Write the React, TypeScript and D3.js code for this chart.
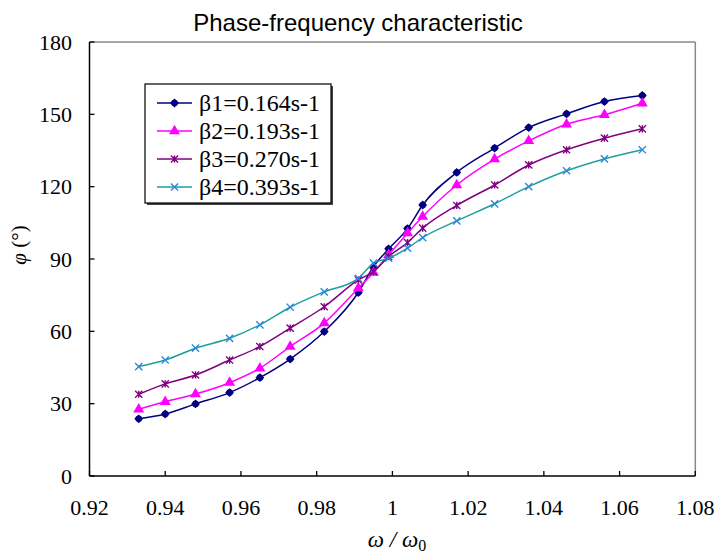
import React from "react";
import * as d3 from "d3";

const omega = [0.933, 0.940, 0.948, 0.957, 0.965, 0.973, 0.982, 0.991, 0.995, 0.999, 1.004, 1.008, 1.017, 1.027, 1.036, 1.046, 1.056, 1.066];
const beta1 = [23.7, 25.7, 29.9, 34.6, 40.8, 48.5, 59.9, 76.1, 86.8, 94.2, 102.6, 112.4, 125.9, 136.0, 144.5, 150.2, 155.3, 157.8];
const beta2 = [27.7, 30.8, 34.0, 38.7, 44.7, 53.7, 63.4, 77.9, 84.4, 91.7, 100.7, 107.6, 120.7, 131.4, 139.0, 145.9, 149.8, 154.6];
const beta3 = [33.9, 38.2, 41.9, 48.1, 53.7, 61.3, 70.2, 81.3, 84.8, 91.0, 96.8, 102.8, 112.2, 120.7, 129.0, 135.3, 140.1, 144.0];
const beta4 = [45.4, 48.1, 53.0, 57.1, 62.7, 70.0, 76.4, 82.0, 88.3, 90.3, 94.5, 98.9, 105.8, 112.9, 120.0, 126.6, 131.5, 135.3];
const seriesNames = ["β1=0.164s-1", "β2=0.193s-1", "β3=0.270s-1", "β4=0.393s-1"];
const xTicks = [0.92, 0.94, 0.96, 0.98, 1.0, 1.02, 1.04, 1.06, 1.08];
const yTicks = [0, 30, 60, 90, 120, 150, 180];
const title = "Phase-frequency characteristic";

const W = 716, H = 554;
const L = 89.5, R = 695.3, T = 42, B = 476;

const styles = [
  { line: "#000080", marker: "#000080", kind: "diamond" },
  { line: "#FF00FF", marker: "#FF00FF", kind: "triangle" },
  { line: "#800080", marker: "#800080", kind: "star" },
  { line: "#1E9E9E", marker: "#2A86E0", kind: "x" },
];

function Marker({ x, y, kind, color }: { x: number; y: number; kind: string; color: string }) {
  if (kind === "diamond") {
    return (
      <g transform={`translate(${x},${y})`}>
        <path d={d3.symbol(d3.symbolDiamond2, 50)()!} fill={color} />
        <circle r={3.3} fill={color} />
      </g>
    );
  }
  if (kind === "triangle") {
    return <path d={d3.symbol(d3.symbolTriangle, 52)()!} transform={`translate(${x},${y})`} fill={color} />;
  }
  const s = 3.6;
  if (kind === "star") {
    return (
      <path
        d={`M${x - s},${y - s}L${x + s},${y + s}M${x - s},${y + s}L${x + s},${y - s}M${x},${y - s}L${x},${y + s}`}
        stroke={color}
        strokeWidth={1.4}
        fill="none"
      />
    );
  }
  return (
    <path
      d={`M${x - s},${y - s}L${x + s},${y + s}M${x - s},${y + s}L${x + s},${y - s}`}
      stroke={color}
      strokeWidth={1.4}
      fill="none"
    />
  );
}

export default function App() {
  const x = d3.scaleLinear().domain([0.92, 1.08]).range([L, R]);
  const y = d3.scaleLinear().domain([0, 180]).range([B, T]);
  const all = [beta1, beta2, beta3, beta4];
  const line = d3
    .line<[number, number]>()
    .x((d) => x(d[0]))
    .y((d) => y(d[1]))
    .curve(d3.curveMonotoneX);

  const serif = "'Liberation Serif', 'DejaVu Serif', serif";
  const sans = "'Liberation Sans', Arial, sans-serif";

  const lgX = 145, lgY = 84, lgW = 186, lgH = 119;

  return (
    <svg width={W} height={H} style={{ position: "absolute", left: 0, top: 0, background: "#fff" }}>
      <rect x={0} y={0} width={W} height={H} fill="#fff" />
      <text x={358} y={31} textAnchor="middle" fontFamily={sans} fontSize={24} fill="#000">
        {title}
      </text>
      {/* plot frame */}
      <line x1={L} y1={T} x2={R} y2={T} stroke="#8a8a8a" strokeWidth={1.5} />
      <line x1={R} y1={T} x2={R} y2={B} stroke="#8a8a8a" strokeWidth={1.5} />
      <line x1={L} y1={T} x2={L} y2={B} stroke="#000" strokeWidth={1.5} />
      <line x1={L} y1={B} x2={R} y2={B} stroke="#000" strokeWidth={1.5} />
      {yTicks.map((t) => (
        <g key={"y" + t}>
          <line x1={L} x2={L + 5} y1={y(t)} y2={y(t)} stroke="#000" strokeWidth={1.3} />
          <text x={72} y={y(t)} dy="0.35em" textAnchor="end" fontFamily={serif} fontSize={22} fill="#000">
            {t}
          </text>
        </g>
      ))}
      {xTicks.map((t) => (
        <g key={"x" + t}>
          <line x1={x(t)} x2={x(t)} y1={B} y2={B - 5} stroke="#000" strokeWidth={1.3} />
          <text x={x(t)} y={515} textAnchor="middle" fontFamily={serif} fontSize={22} fill="#000">
            {d3.format("")(+t.toFixed(2))}
          </text>
        </g>
      ))}
      {/* axis titles */}
      <text x={397} y={547} textAnchor="middle" fontFamily={serif} fontSize={23} fontStyle="italic" fill="#000">
        ω / ω<tspan fontSize={16} dy={4} fontStyle="normal">0</tspan>
      </text>
      <text
        transform="translate(26,245) rotate(-90)"
        textAnchor="middle"
        fontFamily={serif}
        fontSize={21}
        fill="#000"
      >
        <tspan fontStyle="italic">φ</tspan> (°)
      </text>
      {/* series */}
      {all.map((vals, i) => {
        const pts = omega.map((o, k) => [o, vals[k]] as [number, number]);
        return (
          <g key={"s" + i}>
            <path d={line(pts)!} fill="none" stroke={styles[i].line} strokeWidth={1.5} />
            {pts.map((p, k) => (
              <Marker key={k} x={x(p[0])} y={y(p[1])} kind={styles[i].kind} color={styles[i].marker} />
            ))}
          </g>
        );
      })}
      {/* legend */}
      <rect x={lgX + 2} y={lgY + 2} width={lgW} height={lgH} fill="#444" />
      <rect x={lgX} y={lgY} width={lgW} height={lgH} fill="#fff" stroke="#000" strokeWidth={1.2} />
      {seriesNames.map((n, i) => {
        const cy = 103 + i * 28;
        return (
          <g key={"l" + i}>
            <line x1={157} x2={192} y1={cy} y2={cy} stroke={styles[i].line} strokeWidth={1.5} />
            <Marker x={174.5} y={cy} kind={styles[i].kind} color={styles[i].marker} />
            <text x={199} y={cy} dy="0.35em" fontFamily={serif} fontSize={24} fill="#000" textLength={121} lengthAdjust="spacingAndGlyphs">
              {n}
            </text>
          </g>
        );
      })}
    </svg>
  );
}
